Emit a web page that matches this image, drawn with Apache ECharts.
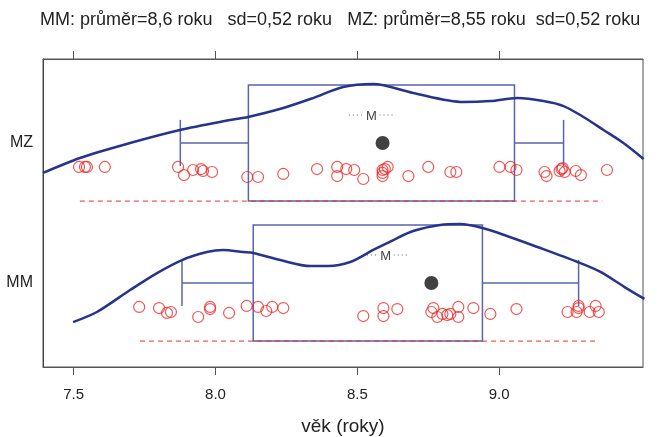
<!DOCTYPE html>
<html>
<head>
<meta charset="utf-8">
<script src="https://cdn.jsdelivr.net/npm/echarts@6/dist/echarts.min.js"></script>
<style>
  html, body { margin: 0; padding: 0; background: #fff; }
  #main { width: 657px; height: 437px; }
</style>
</head>
<body>
<div id="main"></div>
<script>
// skupiny (MM dole, MZ nahoře)
var categories = ['MM', 'MZ'];
var centers = [1, 2];
var means = [8.6, 8.55];
var sds = [0.52, 0.52];
var meanSpread = [0.08, 0.08];
var medians = [8.761, 8.589];
var boxLow = [8.133, 8.116];
var boxHigh = [8.941, 9.054];
var whiskerLow = [7.882, 7.876];
var whiskerHigh = [9.280, 9.227];
var rangeLow = [7.734, 7.522];
var rangeHigh = [9.340, 9.364];
var xTicks = [7.5, 8.0, 8.5, 9.0];

// jednotlivé hodnoty [věk, posun]
var pointsMM = [
  [7.731, -0.171], [7.801, -0.179], [7.829, -0.214], [7.843, -0.207], [7.939, -0.243],
  [7.981, -0.171], [7.981, -0.186], [8.048, -0.214], [8.110, -0.164], [8.150, -0.171],
  [8.179, -0.200], [8.200, -0.171], [8.239, -0.179], [8.521, -0.236], [8.592, -0.179],
  [8.592, -0.236], [8.641, -0.186], [8.768, -0.179], [8.761, -0.207], [8.782, -0.243],
  [8.800, -0.221], [8.817, -0.229], [8.828, -0.221], [8.856, -0.171], [8.856, -0.243],
  [8.909, -0.179], [8.969, -0.221], [9.061, -0.186], [9.241, -0.207], [9.273, -0.207],
  [9.280, -0.164], [9.280, -0.179], [9.319, -0.207], [9.340, -0.164], [9.351, -0.207]
];
var pointsMZ = [
  [7.519, -0.171], [7.540, -0.171], [7.547, -0.171], [7.610, -0.171], [7.868, -0.171],
  [7.889, -0.229], [7.921, -0.193], [7.949, -0.186], [7.956, -0.200], [7.988, -0.207],
  [8.112, -0.243], [8.150, -0.243], [8.239, -0.221], [8.358, -0.186], [8.429, -0.171],
  [8.429, -0.236], [8.461, -0.186], [8.489, -0.193], [8.521, -0.257], [8.589, -0.193],
  [8.597, -0.186], [8.607, -0.171], [8.589, -0.236], [8.589, -0.214], [8.680, -0.236],
  [8.750, -0.171], [8.828, -0.207], [8.849, -0.207], [9.001, -0.171], [9.040, -0.171],
  [9.061, -0.193], [9.160, -0.207], [9.167, -0.236], [9.213, -0.200], [9.220, -0.186],
  [9.224, -0.179], [9.231, -0.207], [9.270, -0.200], [9.288, -0.229], [9.380, -0.193]
];

// hustota [věk, výška]
var densityMM = [
  [7.498, -0.279], [7.582, -0.207], [7.699, -0.050], [7.794, 0.071], [7.882, 0.164],
  [7.970, 0.221], [8.027, 0.236], [8.097, 0.221], [8.133, 0.214], [8.228, 0.164],
  [8.334, 0.121], [8.397, 0.121], [8.475, 0.150], [8.556, 0.236], [8.627, 0.307],
  [8.697, 0.371], [8.792, 0.414], [8.863, 0.421], [8.941, 0.393], [9.018, 0.343],
  [9.135, 0.257], [9.276, 0.150], [9.357, 0.079], [9.442, -0.029], [9.512, -0.114]
];
var densityMZ = [
  [7.392, -0.214], [7.522, -0.107], [7.699, 0.000], [7.875, 0.093], [8.052, 0.164],
  [8.115, 0.186], [8.239, 0.250], [8.344, 0.321], [8.450, 0.400], [8.556, 0.421],
  [8.697, 0.357], [8.874, 0.293], [8.969, 0.300], [9.064, 0.321], [9.156, 0.300],
  [9.227, 0.264], [9.297, 0.186], [9.368, 0.093], [9.438, 0.000], [9.509, -0.114]
];

var BOX_H = 0.415, CAP_H = 0.165, M_Y = 0.2;
var fmt = function (v) { return String(v).replace('.', ','); };

function shift(arr, c) {
  return arr.map(function (p) { return [p[0], c + p[1]]; });
}

var myChart = echarts.init(document.getElementById('main'));

var series = [];
var pointSets = [pointsMM, pointsMZ];
var densSets = [densityMM, densityMZ];

// krabice a vousy
series.push({
  type: 'custom',
  data: categories.map(function (c, i) { return [i]; }),
  renderItem: function (params, api) {
    var i = api.value(0);
    var c = centers[i];
    var tl = api.coord([boxLow[i], c + BOX_H]);
    var br = api.coord([boxHigh[i], c - BOX_H]);
    var wl = api.coord([whiskerLow[i], c]);
    var wh = api.coord([whiskerHigh[i], c]);
    var capT = api.coord([whiskerLow[i], c + CAP_H])[1];
    var capB = api.coord([whiskerLow[i], c - CAP_H])[1];
    var st = { stroke: '#5a64ad', lineWidth: 1.5, fill: null };
    return {
      type: 'group',
      children: [
        { type: 'rect', shape: { x: tl[0], y: tl[1], width: br[0] - tl[0], height: br[1] - tl[1] }, style: st },
        { type: 'line', shape: { x1: wl[0], y1: wl[1], x2: tl[0], y2: wl[1] }, style: st },
        { type: 'line', shape: { x1: br[0], y1: wh[1], x2: wh[0], y2: wh[1] }, style: st },
        { type: 'line', shape: { x1: wl[0], y1: capT, x2: wl[0], y2: capB }, style: st },
        { type: 'line', shape: { x1: wh[0], y1: capT, x2: wh[0], y2: capB }, style: st }
      ]
    };
  },
  z: 2
});

// rozsah (čárkovaně)
categories.forEach(function (c, i) {
  series.push({
    type: 'line',
    data: [[rangeLow[i], centers[i] - BOX_H], [rangeHigh[i], centers[i] - BOX_H]],
    showSymbol: false,
    lineStyle: { color: '#e8312f', width: 1, type: [5, 4] },
    z: 3,
    silent: true
  });
});

// průměr M
series.push({
  type: 'custom',
  data: categories.map(function (c, i) { return [i]; }),
  renderItem: function (params, api) {
    var i = api.value(0);
    var y = centers[i] + M_Y;
    var a = api.coord([means[i] - meanSpread[i], y]);
    var m = api.coord([means[i], y]);
    var b = api.coord([means[i] + meanSpread[i], y]);
    var st = { stroke: '#666', lineWidth: 1, lineDash: [1, 3], fill: null };
    return {
      type: 'group',
      children: [
        { type: 'line', shape: { x1: a[0], y1: a[1], x2: m[0] - 8, y2: a[1] }, style: st },
        { type: 'line', shape: { x1: m[0] + 8, y1: a[1], x2: b[0], y2: a[1] }, style: st },
        { type: 'text', style: { x: m[0], y: m[1] + 1, text: 'M', fill: '#444', font: '13px Liberation Sans', align: 'center', verticalAlign: 'middle' } }
      ]
    };
  },
  z: 4
});

// hustota
categories.forEach(function (c, i) {
  series.push({
    type: 'line',
    data: shift(densSets[i], centers[i]),
    smooth: 0.3,
    showSymbol: false,
    lineStyle: { color: '#27348b', width: 2.5 },
    z: 5,
    silent: true
  });
});

// body
categories.forEach(function (c, i) {
  series.push({
    type: 'scatter',
    data: shift(pointSets[i], centers[i]),
    symbol: 'circle',
    symbolSize: 11,
    itemStyle: { color: 'rgba(0,0,0,0)', borderColor: '#ee2a2a', borderWidth: 1.2 },
    z: 6
  });
});

// medián
series.push({
  type: 'scatter',
  data: categories.map(function (c, i) { return [medians[i], centers[i]]; }),
  symbol: 'circle',
  symbolSize: 14,
  itemStyle: { color: '#111' },
  z: 7
});

var titleText = categories[0] + ': průměr=' + fmt(means[0]) + ' roku   sd=' + fmt(sds[0]) +
  ' roku   ' + categories[1] + ': průměr=' + fmt(means[1]) + ' roku  sd=' + fmt(sds[1]) + ' roku';

var axisStyle = { lineStyle: { color: '#555', width: 1 } };

myChart.setOption({
  animation: false,
  title: {
    text: titleText,
    left: 35,
    top: 6,
    textStyle: { fontFamily: 'Liberation Sans', fontSize: 18, fontWeight: 'normal', color: '#222' }
  },
  grid: { left: 43, right: 14, top: 59, bottom: 70, show: true, borderColor: '#555', borderWidth: 1,
    outerBoundsMode: 'none', containLabel: false },
  xAxis: [{
    type: 'value',
    min: 7.392,
    max: 9.507,
    position: 'bottom',
    name: 'věk (roky)',
    nameLocation: 'middle',
    nameGap: 50,
    nameTextStyle: { fontFamily: 'Liberation Sans', fontSize: 19, color: '#222' },
    axisLine: axisStyle,
    axisTick: { show: true, length: 8, customValues: xTicks, lineStyle: { color: '#555' } },
    axisLabel: { customValues: xTicks, margin: 20, fontFamily: 'Liberation Sans', fontSize: 15, color: '#222',
      formatter: function (v) { return v.toFixed(1); } },
    splitLine: { show: false }
  }, {
    type: 'value',
    min: 7.392,
    max: 9.507,
    position: 'top',
    axisLine: axisStyle,
    axisTick: { show: true, length: 8, customValues: xTicks, lineStyle: { color: '#555' } },
    axisLabel: { show: false },
    splitLine: { show: false }
  }],
  yAxis: {
    type: 'value',
    min: 0.4,
    max: 2.6,
    axisLine: { show: true, lineStyle: { color: '#444' } },
    axisTick: { show: false },
    axisLabel: { customValues: centers, margin: 10, fontFamily: 'Liberation Sans', fontSize: 16, color: '#222',
      formatter: function (v) { return categories[centers.indexOf(v)] || ''; } },
    splitLine: { show: false }
  },
  series: series
});
</script>
</body>
</html>
